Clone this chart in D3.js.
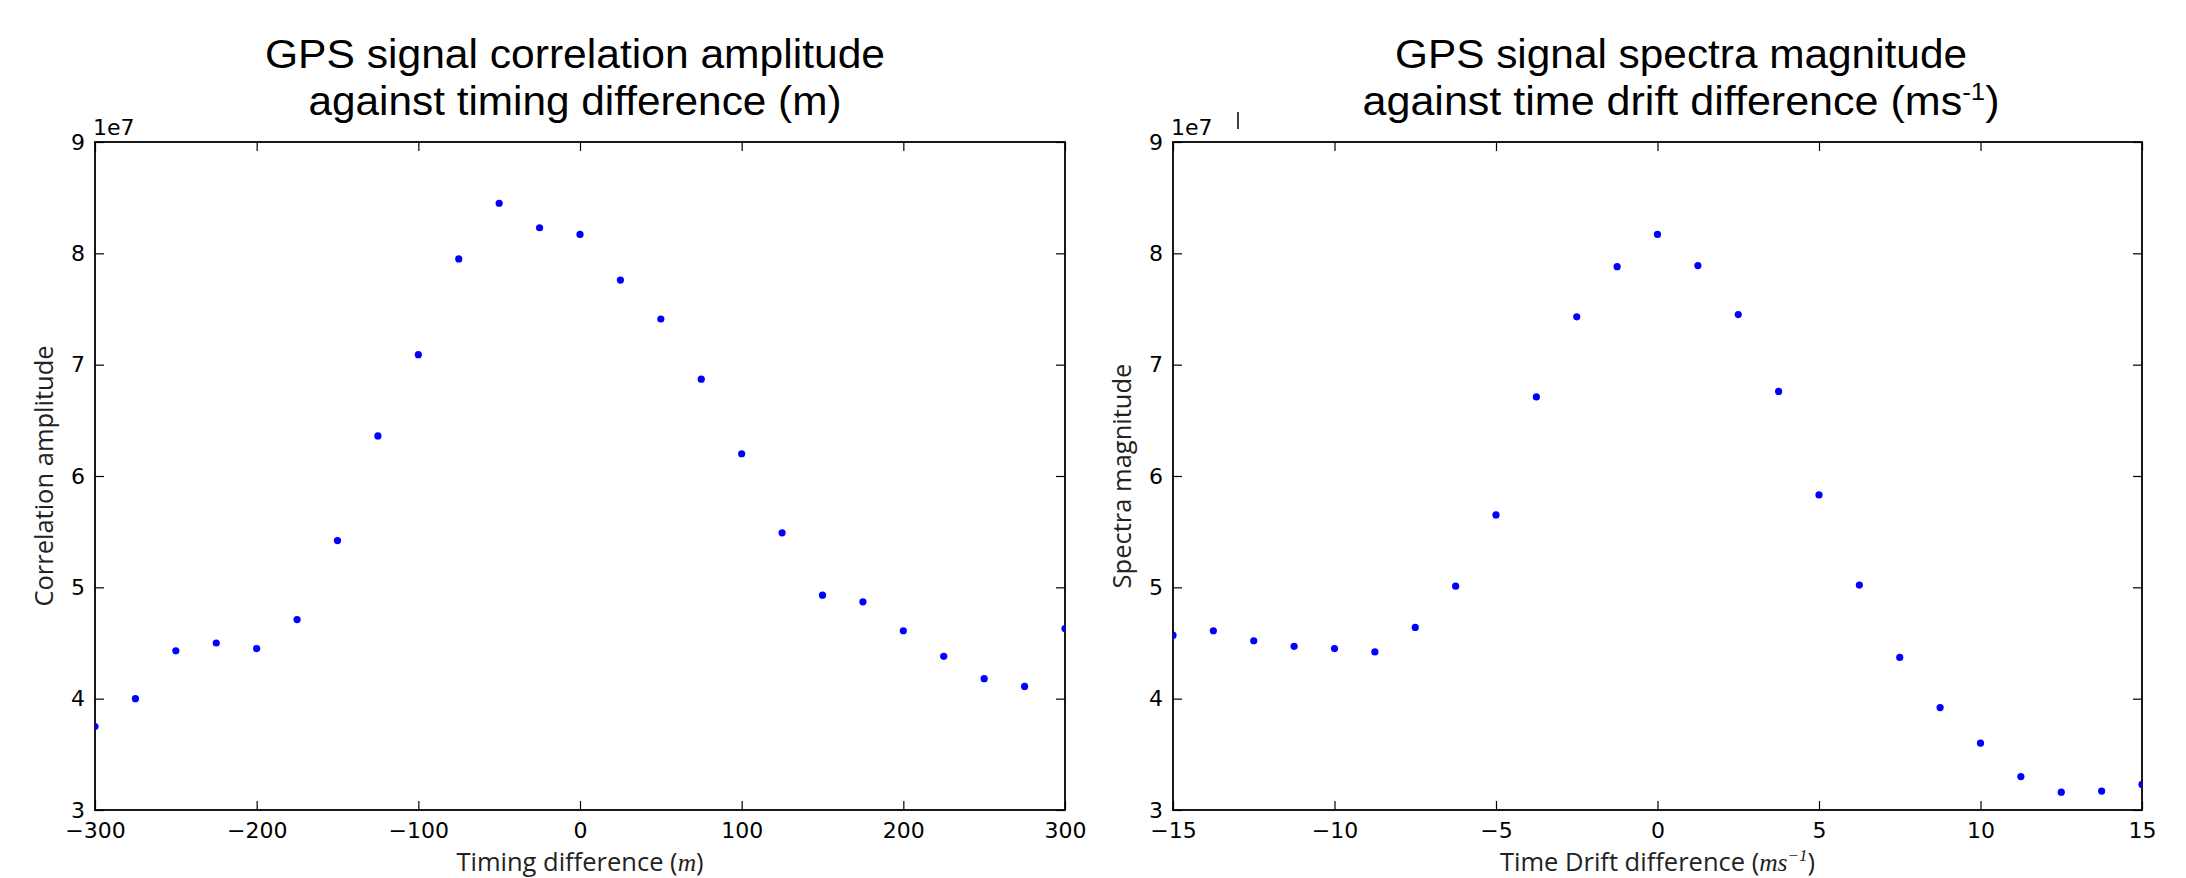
<!DOCTYPE html>
<html>
<head>
<meta charset="utf-8">
<script src="https://cdn.jsdelivr.net/npm/d3@7"></script>
<style>
  body { margin: 0; background: #fff; }
  .tick text { font-family: 'DejaVu Sans', sans-serif; font-size: 22px; fill: #000; }
  .tick line { stroke: #000; stroke-width: 1.2; }
  .title { font-family: 'Liberation Sans', Arial, sans-serif; font-size: 40px; fill: #000; }
  .label { font-family: 'Open Sans', sans-serif; font-size: 25.5px; fill: #222; }
  .math { font-family: 'Liberation Serif', serif; font-style: italic; }
</style>
</head>
<body>
<div id="chart"></div>
<script>
const width = 2186;
const height = 878;

// Left panel: correlation amplitude vs timing difference (m)
const timingOffsets = [-300, -275, -250, -225, -200, -175, -150, -125, -100, -75, -50, -25, 0,
  25, 50, 75, 100, 125, 150, 175, 200, 225, 250, 275, 300];
const correlationAmplitude = [3.75e7, 4.00e7, 4.43e7, 4.50e7, 4.45e7, 4.71e7, 5.42e7, 6.36e7, 7.09e7,
  7.95e7, 8.45e7, 8.23e7, 8.17e7, 7.76e7, 7.41e7, 6.87e7, 6.20e7, 5.49e7, 4.93e7, 4.87e7, 4.61e7,
  4.38e7, 4.18e7, 4.11e7, 4.63e7];
const timingTicks = [-300, -200, -100, 0, 100, 200, 300];

// Right panel: spectra magnitude vs time drift difference (ms^-1)
const driftOffsets = [-15, -13.75, -12.5, -11.25, -10, -8.75, -7.5, -6.25, -5, -3.75, -2.5, -1.25, 0,
  1.25, 2.5, 3.75, 5, 6.25, 7.5, 8.75, 10, 11.25, 12.5, 13.75, 15];
const spectraMagnitude = [4.57e7, 4.61e7, 4.52e7, 4.47e7, 4.45e7, 4.42e7, 4.64e7, 5.01e7, 5.65e7,
  6.71e7, 7.43e7, 7.88e7, 8.17e7, 7.89e7, 7.45e7, 6.76e7, 5.83e7, 5.02e7, 4.37e7, 3.92e7, 3.60e7,
  3.30e7, 3.16e7, 3.17e7, 3.23e7];
const driftTicks = [-15, -10, -5, 0, 5, 10, 15];

const yTicks = [3e7, 4e7, 5e7, 6e7, 7e7, 8e7, 9e7];
const yDomain = [3e7, 9e7];

const svg = d3.select('#chart')
  .append('svg')
    .attr('width', width)
    .attr('height', height);

const plotTop = 142;
const plotBottom = 810;
const tickLen = 9;
const fmt = d => d3.format('')(d);

function drawPanel(p) {
  const x = d3.scaleLinear().domain(p.xDomain).range([p.left, p.right]);
  const y = d3.scaleLinear().domain(yDomain).range([plotBottom, plotTop]);
  const g = svg.append('g');

  // clip so edge points are cut by the frame like matplotlib
  g.append('clipPath').attr('id', p.id)
    .append('rect')
      .attr('x', p.left).attr('y', plotTop)
      .attr('width', p.right - p.left).attr('height', plotBottom - plotTop);

  g.append('g')
    .attr('transform', `translate(0,${plotBottom})`)
    .call(d3.axisBottom(x).tickValues(p.xTicks).tickSize(-tickLen).tickPadding(12).tickFormat(fmt))
    .call(a => a.select('.domain').remove());
  g.append('g')
    .attr('transform', `translate(0,${plotTop})`)
    .call(d3.axisTop(x).tickValues(p.xTicks).tickSize(-tickLen).tickFormat(''))
    .call(a => a.select('.domain').remove());
  g.append('g')
    .attr('transform', `translate(${p.left},0)`)
    .call(d3.axisLeft(y).tickValues(yTicks).tickSize(-tickLen).tickPadding(10).tickFormat(d => d / 1e7))
    .call(a => a.select('.domain').remove());
  g.append('g')
    .attr('transform', `translate(${p.right},0)`)
    .call(d3.axisRight(y).tickValues(yTicks).tickSize(-tickLen).tickFormat(''))
    .call(a => a.select('.domain').remove());

  g.append('rect')
    .attr('x', p.left).attr('y', plotTop)
    .attr('width', p.right - p.left).attr('height', plotBottom - plotTop)
    .attr('fill', 'none')
    .attr('stroke', '#000')
    .attr('stroke-width', 1.8);

  // offset text
  g.append('text')
    .attr('x', p.left - 2).attr('y', plotTop - 7)
    .style('font-family', "'DejaVu Sans', sans-serif")
    .style('font-size', '22px')
    .text('1e7');

  g.append('g')
    .attr('clip-path', `url(#${p.id})`)
    .selectAll('circle')
    .data(p.xs.map((v, i) => ({ x: v, y: p.ys[i] })))
    .enter().append('circle')
      .attr('cx', d => x(d.x))
      .attr('cy', d => y(d.y))
      .attr('r', 3.6)
      .attr('fill', '#0000ff');

  // titles
  g.append('text').attr('class', 'title')
    .attr('x', p.titleX).attr('y', 68)
    .attr('text-anchor', 'middle')
    .attr('textLength', p.titleW[0]).attr('lengthAdjust', 'spacingAndGlyphs')
    .text(p.title[0]);
  const t2 = g.append('text').attr('class', 'title')
    .attr('x', p.titleX).attr('y', 115)
    .attr('text-anchor', 'middle')
    .attr('textLength', p.titleW[1]).attr('lengthAdjust', 'spacingAndGlyphs');
  p.title2(t2);

  // axis labels
  const xl = g.append('text').attr('class', 'label')
    .attr('x', (p.left + p.right) / 2).attr('y', 871)
    .attr('text-anchor', 'middle');
  p.xLabel(xl);

  g.append('text').attr('class', 'label')
    .attr('transform', `translate(${p.yLabelX},${(plotTop + plotBottom) / 2}) rotate(-90)`)
    .attr('text-anchor', 'middle')
    .text(p.yLabel);
}

drawPanel({
  id: 'clipA', left: 95, right: 1065,
  xDomain: [-300, 300], xTicks: timingTicks,
  xs: timingOffsets, ys: correlationAmplitude,
  titleX: 575, titleW: [620, 533],
  title: ['GPS signal correlation amplitude'],
  title2: t => t.text('against timing difference (m)'),
  xLabel: t => {
    t.append('tspan').text('Timing difference (');
    t.append('tspan').attr('class', 'math').text('m');
    t.append('tspan').text(')');
  },
  yLabel: 'Correlation amplitude', yLabelX: 53
});

drawPanel({
  id: 'clipB', left: 1173, right: 2142,
  xDomain: [-15, 15], xTicks: driftTicks,
  xs: driftOffsets, ys: spectraMagnitude,
  titleX: 1681, titleW: [572, 637],
  title: ['GPS signal spectra magnitude'],
  title2: t => {
    t.append('tspan').text('against time drift difference (ms');
    t.append('tspan').attr('font-size', '24px').attr('dy', -15).text('-1');
    t.append('tspan').attr('dy', 15).text(')');
  },
  xLabel: t => {
    t.append('tspan').text('Time Drift difference (');
    t.append('tspan').attr('class', 'math').text('ms');
    t.append('tspan').attr('class', 'math').attr('font-size', '17px').attr('dy', -10).text('\u22121');
    t.append('tspan').attr('dy', 10).text(')');
  },
  yLabel: 'Spectra magnitude', yLabelX: 1131
});

// stray cursor mark visible above the right panel
svg.append('line')
  .attr('x1', 1238).attr('x2', 1238)
  .attr('y1', 112).attr('y2', 129)
  .attr('stroke', '#000').attr('stroke-width', 1.5);
</script>
</body>
</html>
